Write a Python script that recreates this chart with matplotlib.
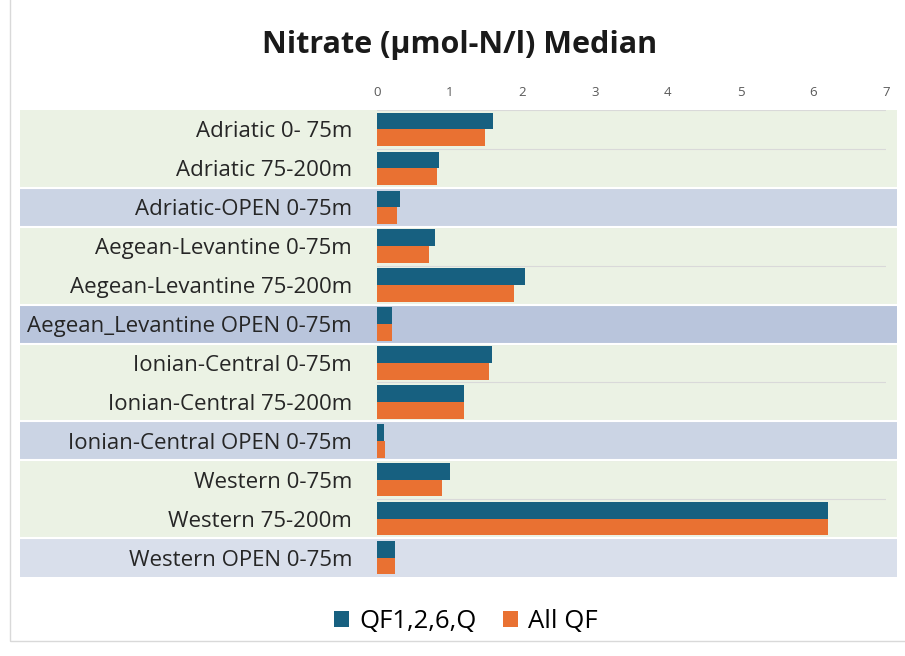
import numpy as np
import matplotlib.pyplot as plt
from matplotlib.patches import Rectangle
from matplotlib.transforms import blended_transform_factory

# data (top to bottom)
regions = ["Adriatic 0- 75m", "Adriatic 75-200m", "Adriatic-OPEN 0-75m",
           "Aegean-Levantine 0-75m", "Aegean-Levantine 75-200m",
           "Aegean_Levantine OPEN 0-75m", "Ionian-Central 0-75m",
           "Ionian-Central 75-200m", "Ionian-Central OPEN 0-75m",
           "Western 0-75m", "Western 75-200m", "Western OPEN 0-75m"]
qf_selected = [1.59, 0.85, 0.32, 0.80, 2.04, 0.20, 1.58, 1.19, 0.10, 1.00, 6.20, 0.25]
qf_all = [1.49, 0.82, 0.27, 0.71, 1.88, 0.20, 1.54, 1.19, 0.11, 0.89, 6.20, 0.25]
band_colors = ["#ebf2e4", "#ebf2e4", "#cbd4e4", "#ebf2e4", "#ebf2e4", "#b9c5dc",
               "#ebf2e4", "#ebf2e4", "#cbd4e4", "#ebf2e4", "#ebf2e4", "#d9dfeb"]
x_ticks = [0, 1, 2, 3, 4, 5, 6, 7]

plt.rcParams['font.family'] = ['Open Sans', 'DejaVu Sans']

fig = plt.figure(figsize=(9.05, 6.56), dpi=100)
ax = fig.add_axes([377 / 905, 1 - 577 / 656, (886 - 377) / 905, (577 - 110) / 656])

n = len(regions)
y = np.arange(n)
h = 0.43

# background bands that reach past the axes to the left
trans = blended_transform_factory(fig.transFigure, ax.transData)
for i, c in enumerate(band_colors):
    fig.add_artist(Rectangle((20 / 905, i - 0.5), (897 - 20) / 905, 1.0, transform=trans,
                             facecolor=c, edgecolor="none", clip_on=False, zorder=0))
    if i > 0 and band_colors[i - 1] != c:
        fig.add_artist(plt.Line2D([20 / 905, 897 / 905], [i - 0.5, i - 0.5], transform=trans,
                                  color="white", lw=1.5, zorder=0.5))

for i in range(n + 1):
    ax.axhline(i - 0.5, color="#d9d9d9", lw=0.8, zorder=1)

ax.barh(y - h / 2, qf_selected, height=h, color="#176080", label="QF1,2,6,Q", zorder=3)
ax.barh(y + h / 2, qf_all, height=h, color="#e97132", label="All QF", zorder=3)

ax.set_xlim(0, 7)
ax.set_ylim(n - 0.5, -0.5)
ax.set_xticks(x_ticks)
ax.xaxis.tick_top()
ax.tick_params(axis="x", length=0, labelsize=9.5, labelcolor="#595959", pad=8)
ax.set_yticks(y)
ax.set_yticklabels(regions)
ax.tick_params(axis="y", length=0, labelsize=16, labelcolor="#262626", pad=18)
ax.patch.set_visible(False)
for s in ax.spines.values():
    s.set_visible(False)

fig.text(0.508, 0.932, "Nitrate (µmol-N/l) Median", ha="center", va="center",
         fontsize=22, fontweight="bold", color="#1a1a1a")

fig.legend(loc="center", bbox_to_anchor=(0.515, 0.052), ncol=2, frameon=False,
           fontsize=18.5, handlelength=0.6, handleheight=0.6, columnspacing=1.0,
           handletextpad=0.4)

# thin outer frame
fig.add_artist(Rectangle((10 / 905, 15 / 656), 1, 1, transform=fig.transFigure,
                         fill=False, edgecolor="#d9d9d9", lw=1.0))

fig.savefig("out.png", dpi=100)
